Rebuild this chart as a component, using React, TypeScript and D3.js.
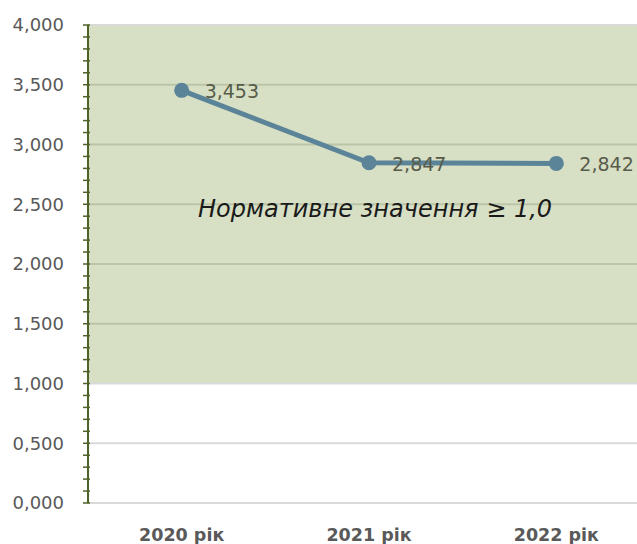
import React from "react";
import * as d3 from "d3";

const categories = ["2020 рік", "2021 рік", "2022 рік"];
const values = [3.453, 2.847, 2.842];
const valueLabels = ["3,453", "2,847", "2,842"];
const yTicks = [0, 0.5, 1, 1.5, 2, 2.5, 3, 3.5, 4];
const normValue = 1.0;
const annotation = "Нормативне значення ≥ 1,0";

const W = 637;
const H = 544;
const left = 88;
const plotRight = 650;
const top = 25;
const bottom = 503;

export default function App() {
  const x = d3.scaleBand<string>().domain(categories).range([left, plotRight]);
  const y = d3.scaleLinear().domain([0, 4]).range([bottom, top]);
  const minor = d3.range(0, 4.0001, 0.1);
  const cxOf = (i: number) => (x(categories[i]) as number) + x.bandwidth() / 2;
  const line = d3
    .line<number>()
    .x((_, i) => cxOf(i))
    .y((d) => y(d));
  const font = "'DejaVu Sans', sans-serif";
  return (
    <svg
      width={W}
      height={H}
      style={{ position: "absolute", left: 0, top: 0, background: "#fff" }}
    >
      <rect
        x={left}
        y={y(4)}
        width={plotRight - left}
        height={y(normValue) - y(4)}
        fill="#d7dfc5"
      />
      {yTicks.map((t) => (
        <line
          key={t}
          x1={left}
          x2={plotRight}
          y1={y(t)}
          y2={y(t)}
          stroke={t > normValue && t < 4 ? "#bcc4a8" : "#d9d9d9"}
          strokeWidth={2}
        />
      ))}
      {yTicks.map((t) => (
        <text
          key={"l" + t}
          x={64}
          y={y(t)}
          dy="0.35em"
          textAnchor="end"
          fontFamily={font}
          fontSize={18}
          fill="#595959"
        >
          {t.toFixed(3).replace(".", ",")}
        </text>
      ))}
      {minor.map((t, i) => (
        <line
          key={"m" + i}
          x1={83}
          x2={90}
          y1={y(t)}
          y2={y(t)}
          stroke="#4f6228"
          strokeWidth={1.5}
        />
      ))}
      <line x1={left} x2={left} y1={y(4)} y2={y(0)} stroke="#4f6228" strokeWidth={2} />
      <path d={line(values) as string} fill="none" stroke="#5b8499" strokeWidth={5} />
      {values.map((v, i) => (
        <g key={"p" + i}>
          <circle cx={cxOf(i)} cy={y(v)} r={7.5} fill="#5b8499" />
          <text
            x={cxOf(i) + 23}
            y={y(v) + 1}
            dy="0.36em"
            fontFamily={font}
            fontSize={19}
            fill="#575c4a"
          >
            {valueLabels[i]}
          </text>
        </g>
      ))}
      <text
        x={198}
        y={217}
        fontFamily={font}
        fontStyle="italic"
        fontSize={24}
        fill="#1a1a1a"
      >
        {annotation}
      </text>
      {categories.map((c, i) => (
        <text
          key={c}
          x={cxOf(i)}
          y={541}
          textAnchor="middle"
          fontFamily={font}
          fontWeight="bold"
          fontSize={17.5}
          fill="#595959"
        >
          {c}
        </text>
      ))}
    </svg>
  );
}
